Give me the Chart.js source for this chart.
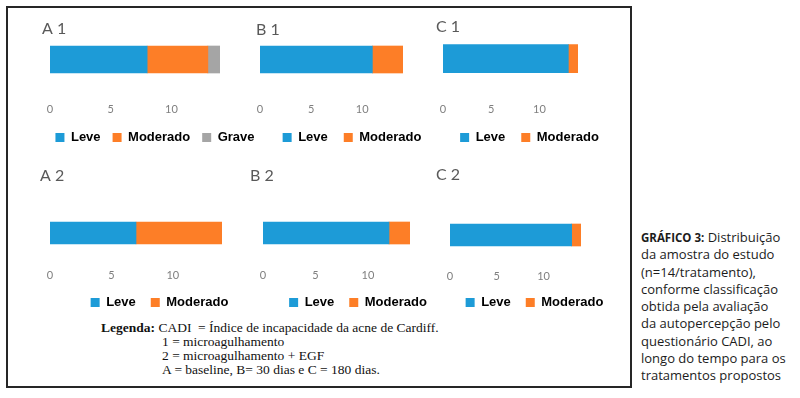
<!DOCTYPE html>
<html lang="pt">
<head>
<meta charset="utf-8">
<script src="https://cdn.jsdelivr.net/npm/chart.js@4.4.1/dist/chart.umd.min.js"></script>
<style>
    body { margin: 0; background: #fff; }
    #figura { position: relative; width: 800px; height: 398px; overflow: hidden; }
    #figura canvas { position: absolute; }
    #moldura { position: absolute; left: 6px; top: 6px; width: 626px; height: 382px; box-sizing: border-box; border: 2px solid #262626; }
    #legenda { position: absolute; left: 101px; top: 321px; font-family: "Liberation Serif", serif; font-size: 13.5px; line-height: 14px; color: #111; white-space: nowrap; }
    #legenda .recuo { padding-left: 61px; }
    #nota { position: absolute; left: 641px; top: 229px; font-family: "Open Sans", sans-serif; font-size: 13px; line-height: 17.3px; color: #1c1c1c; white-space: nowrap; }
    #nota b { font-size: 11.5px; font-weight: 700; }
</style>
</head>
<body>
<div id="figura">
    <div id="moldura"></div>
    <div id="legenda">
        <div><b>Legenda:</b> CADI&nbsp; = Índice de incapacidade da acne de Cardiff.</div>
        <div class="recuo">1 = microagulhamento</div>
        <div class="recuo">2 = microagulhamento + EGF</div>
        <div class="recuo">A = baseline, B= 30 dias e C = 180 dias.</div>
    </div>
    <div id="nota">
        <b>GRÁFICO 3:</b> Distribuição<br>
        da amostra do estudo<br>
        (n=14/tratamento),<br>
        conforme classificação<br>
        obtida pela avaliação<br>
        da autopercepção pelo<br>
        questionário CADI, ao<br>
        longo do tempo para os<br>
        tratamentos propostos
    </div>
</div>

<script>
// Dados (n=14 por tratamento)
const categorias = ["Leve", "Moderado", "Grave"];
const titulos = ["A 1", "B 1", "C 1", "A 2", "B 2", "C 2"];
const leve = [8, 11, 13, 7, 12, 13];
const moderado = [5, 3, 1, 7, 2, 1];
const grave = [1, 0, 0, 0, 0, 0];
const xTicks = [0, 5, 10];
const xMax = 14;

const cores = ["#1d9bd7", "#fd7e27", "#a5a5a5"];

// Posição de cada painel na figura
const paineis = [
    { left: 10,  top: 10,  width: 258, height: 144, padL: 32, yl: 8,  yr: 48, tTop: 8.9,  tBot: 1.9,  tickPad: 23.4, xh: 40,   legPad: 12, bar: 27 },
    { left: 226, top: 10,  width: 222, height: 144, padL: 30, yl: 4,  yr: 45, tTop: 10.4, tBot: 0.4,  tickPad: 23.4, xh: 36,   legPad: 16, bar: 27 },
    { left: 406, top: 10,  width: 217, height: 144, padL: 30, yl: 7,  yr: 45, tTop: 6.9,  tBot: 3.9,  tickPad: 25,   xh: 37.6, legPad: 16, bar: 28 },
    { left: 30,  top: 155, width: 249, height: 164, padL: 10, yl: 10, yr: 57, tTop: 10.9, tBot: 19.9, tickPad: 7.4,  xh: 20,   legPad: 15, bar: 22 },
    { left: 240, top: 155, width: 226, height: 164, padL: 10, yl: 13, yr: 56, tTop: 11.7, tBot: 19.1, tickPad: 7.4,  xh: 20,   legPad: 15, bar: 22 },
    { left: 426, top: 155, width: 207, height: 164, padL: 10, yl: 14, yr: 52, tTop: 10.2, tBot: 22.6, tickPad: 6.4,  xh: 18,   legPad: 15, bar: 22 }
];

function criarGrafico(i) {
    const p = paineis[i];
    const canvas = document.createElement("canvas");
    canvas.width = p.width;
    canvas.height = p.height;
    canvas.style.left = p.left + "px";
    canvas.style.top = p.top + "px";
    document.getElementById("figura").appendChild(canvas);

    // Grave só aparece quando existe no painel
    const series = [leve, moderado, grave];
    const datasets = [];
    series.forEach((s, k) => {
        if (k < 2 || s[i] > 0) {
            datasets.push({ label: categorias[k], data: [s[i]], backgroundColor: cores[k], barThickness: p.bar });
        }
    });

    new Chart(canvas, {
        type: "bar",
        data: { labels: [titulos[i]], datasets: datasets },
        options: {
            indexAxis: "y",
            responsive: false,
            animation: false,
            layout: { padding: { left: p.padL, right: 0, top: 0, bottom: 0 } },
            plugins: {
                title: {
                    display: true,
                    text: titulos[i],
                    align: "start",
                    color: "#595959",
                    font: { family: "Lato", size: 16, weight: "normal" },
                    padding: { top: p.tTop, bottom: p.tBot }
                },
                legend: {
                    position: "bottom",
                    labels: {
                        boxWidth: 9,
                        boxHeight: 9,
                        padding: p.legPad,
                        color: "#000",
                        font: { family: "'Liberation Sans', Arial", size: 13, weight: "bold" }
                    }
                },
                tooltip: { enabled: false }
            },
            scales: {
                x: {
                    stacked: true,
                    min: 0,
                    max: xMax,
                    grid: { display: false, drawTicks: false },
                    border: { display: false },
                    ticks: { color: "#7f7f7f", font: { family: "Lato", size: 11 }, padding: p.tickPad },
                    afterBuildTicks: (s) => { s.ticks = xTicks.map((v) => ({ value: v })); },
                    afterFit: (s) => { s.height = p.xh; }
                },
                y: {
                    stacked: true,
                    grid: { display: false, drawTicks: false },
                    border: { display: false },
                    ticks: { display: false },
                    afterFit: (s) => { s.width = p.yl; }
                },
                yDir: {
                    axis: "y",
                    type: "linear",
                    position: "right",
                    grid: { display: false, drawTicks: false },
                    border: { display: false },
                    ticks: { display: false },
                    afterFit: (s) => { s.width = p.yr; }
                }
            }
        }
    });
}

document.addEventListener("DOMContentLoaded", function () {
    titulos.forEach((t, i) => criarGrafico(i));
});
</script>
</body>
</html>
